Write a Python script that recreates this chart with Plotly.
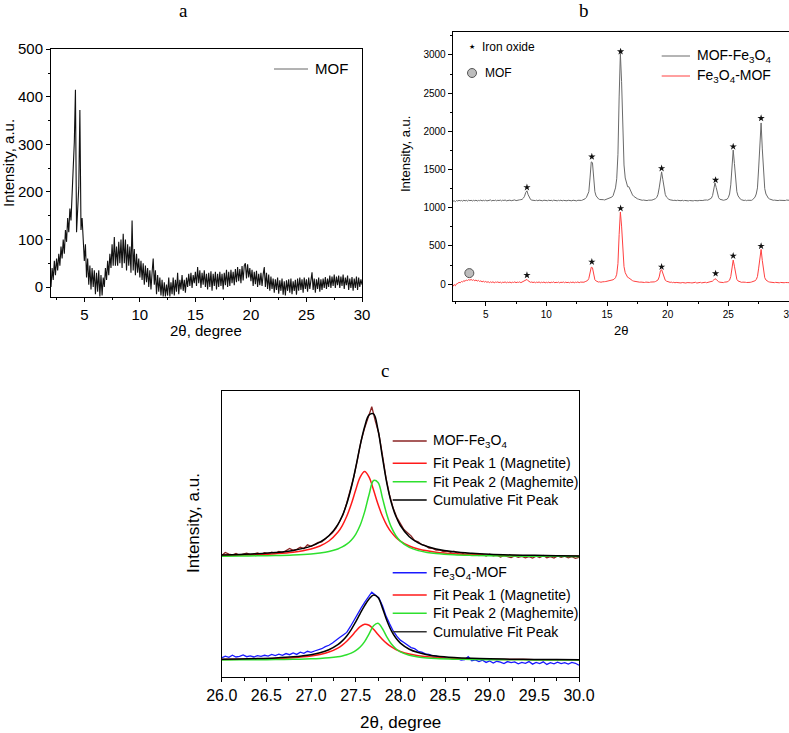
import numpy as np
import plotly.graph_objects as go

W, H = 789, 733
SANS = "Liberation Sans, Arial, sans-serif"
SERIF = "Liberation Serif, Times New Roman, serif"

# ---------------- Panel a : MOF pattern (2θ from 2.0 step 0.1) ----------------
mof_start, mof_step = 2.0, 0.1
mof_y = [
    0, 40, 15, 55, 25, 60, 35, 70, 45, 85,
    60, 100, 70, 120, 95, 145, 115, 165, 140, 215,
    250, 305, 415, 115, 165, 210, 372, 120, 145, 80,
    55, 90, 20, 60, 5, 45, -5, 40, 0, 35,
    -15, 30, -10, 35, -20, 25, -18, 20, 0, 40,
    15, 55, 25, 70, 40, 90, 45, 105, 45, 85,
    45, 95, 50, 100, 40, 112, 50, 100, 35, 90,
    45, 85, 30, 140, 35, 80, 25, 70, 30, 60,
    20, 55, 15, 50, 5, 45, 10, 40, 0, 35,
    -5, 30, 60, 5, 35, -15, 25, -10, 20, -18,
    15, -20, 10, -20, 5, -18, 20, -20, 10, -15,
    20, -18, 15, -10, 30, -15, 15, -5, 25, -8,
    15, -12, 20, 0, 28, 2, 30, -2, 25, 8,
    32, 2, 42, 8, 35, -2, 30, 5, 35, 0,
    28, -5, 30, 0, 33, -8, 28, 2, 32, -5,
    28, 0, 32, 2, 28, -5, 30, 4, 36, 0,
    32, 2, 36, 8, 32, 4, 38, 10, 42, 12,
    38, 8, 44, 14, 45, 50, 18, 48, 20, 40,
    12, 36, 2, 32, 6, 34, 0, 28, 4, 30,
    2, 26, 42, 0, 30, -4, 26, -8, 22, -4,
    18, -12, 16, -6, 20, -14, 14, -8, 18, -16,
    12, -18, 14, -8, 16, -12, 18, -15, 12, -8,
    15, -16, 18, -8, 20, -6, 16, -12, 20, -4,
    16, -10, 20, -4, 14, 31, -6, 18, -12, 16,
    -4, 20, -10, 16, -6, 18, -2, 21, -4, 18,
    0, 24, -2, 22, 2, 26, -2, 22, 4, 24,
    -2, 22, 2, 26, -4, 20, 4, 24, -6, 18,
    -2, 21, -8, 18, -2, 22, -6, 20, 0, 16,
    5,
]

# ---------------- Panel b : composites (2θ from 2.3 step 0.1) ----------------
b_start, b_step = 2.3, 0.1
mof_fe3o4_y = [
    1085, 1092, 1080, 1095, 1088, 1098, 1090,
    1096, 1087, 1099, 1090, 1097, 1088, 1100, 1092, 1098, 1089,
    1097, 1091, 1100, 1088, 1096, 1093, 1101, 1089, 1098, 1092,
    1099, 1090, 1097, 1094, 1102, 1089, 1098, 1093, 1100, 1091,
    1098, 1094, 1101, 1090, 1099, 1095, 1102, 1091, 1097, 1094,
    1100, 1092, 1099, 1096, 1103, 1093, 1100, 1097, 1104, 1106,
    1110, 1125, 1150, 1200, 1222, 1170, 1125, 1108, 1100, 1096,
    1101, 1094, 1099, 1092, 1100, 1095, 1098, 1091, 1099, 1094,
    1097, 1092, 1100, 1093, 1098, 1090, 1099, 1094, 1097, 1091,
    1098, 1093, 1100, 1090, 1097, 1094, 1099, 1091, 1098, 1093,
    1096, 1091, 1099, 1093, 1097, 1090, 1098, 1095, 1100, 1096,
    1103, 1108, 1118, 1135, 1165, 1210, 1390, 1600, 1590, 1350,
    1210, 1155, 1130, 1116, 1108, 1104, 1100, 1106, 1102, 1108,
    1110, 1115, 1121, 1128, 1140, 1158, 1200, 1260, 1380, 1700,
    2450, 3020, 2650, 1950, 1560, 1390, 1310, 1275, 1275, 1235,
    1195, 1168, 1150, 1135, 1125, 1118, 1112, 1106, 1102, 1098,
    1101, 1096, 1100, 1094, 1099, 1097, 1102, 1100, 1106, 1112,
    1120, 1135, 1175, 1260, 1410, 1470, 1370, 1250, 1175, 1140,
    1120, 1110, 1104, 1098, 1101, 1095, 1099, 1093, 1098, 1094,
    1097, 1092, 1098, 1091, 1096, 1093, 1097, 1090, 1095, 1092,
    1096, 1090, 1095, 1092, 1097, 1091, 1096, 1094, 1099, 1095,
    1100, 1096, 1102, 1099, 1106, 1112, 1125, 1160, 1240, 1325,
    1265, 1175, 1132, 1112, 1104, 1100, 1098, 1102, 1106, 1112,
    1135, 1180, 1300, 1560, 1755, 1580, 1330, 1210, 1155, 1125,
    1112, 1104, 1099, 1095, 1100, 1093, 1098, 1096, 1101, 1097,
    1105, 1118, 1140, 1180, 1260, 1520, 1920, 2110, 1770, 1410,
    1250, 1180, 1142, 1125, 1115, 1108, 1102, 1098, 1100, 1095,
    1099, 1094, 1098, 1096, 1100, 1093, 1099, 1095, 1101, 1097,
    1098,
]
fe3o4_mof_y = [
    -30, -5, -20, 5, 10, 25, 18,
    35, 30, 45, 38, 55, 48, 60, 52, 62, 50,
    58, 45, 55, 40, 50, 36, 44, 30, 40, 28,
    36, 24, 33, 20, 30, 22, 32, 18, 28, 24,
    30, 20, 28, 16, 26, 22, 30, 18, 27, 21,
    29, 17, 26, 22, 31, 19, 27, 23, 30, 20,
    28, 33, 40, 55, 62, 44, 30, 24, 29, 21,
    28, 19, 27, 22, 30, 18, 26, 21, 29, 17,
    25, 20, 28, 16, 26, 22, 30, 18, 25, 21,
    28, 17, 26, 22, 29, 19, 27, 20, 25, 18,
    27, 21, 29, 18, 26, 22, 30, 19, 27, 24,
    30, 26, 33, 38, 48, 75, 145, 222, 215, 115,
    58, 42, 34, 28, 31, 25, 30, 27, 33, 35,
    38, 42, 45, 48, 52, 58, 68, 85, 130, 270,
    650, 945, 760, 420, 230, 150, 110, 90, 82, 66,
    55, 46, 40, 36, 32, 29, 31, 26, 28, 24,
    29, 22, 27, 24, 30, 23, 28, 26, 32, 30,
    35, 42, 55, 95, 172, 190, 135, 80, 52, 40,
    33, 28, 24, 27, 20, 25, 18, 23, 19, 24,
    20, 16, 22, 18, 24, 15, 21, 17, 23, 19,
    16, 22, 18, 25, 15, 21, 19, 24, 17, 22,
    20, 25, 19, 24, 22, 28, 32, 40, 55, 72,
    62, 44, 32, 26, 22, 25, 21, 27, 24, 30,
    40, 52, 100, 225, 315, 235, 115, 64, 42, 33,
    28, 24, 27, 21, 25, 22, 26, 20, 24, 28,
    32, 38, 45, 60, 100, 210, 385, 455, 310, 150,
    85, 55, 40, 33, 28, 25, 22, 26, 20, 24,
    21, 25, 18, 23, 20, 26, 19, 22, 17, 21,
    20,
]
star_x = [8.4, 13.75, 16.12, 19.5, 23.95, 25.4, 27.7]
star_gray_y = [1267, 1668, 3045, 1516, 1363, 1800, 2172]
star_red_y = [118, 292, 992, 227, 140, 371, 498]
mof_mark_x = [3.65]
mof_mark_y = [145]

# ---------------- Panel c : peak fitting (2θ from 26.00 step 0.04) ----------------
c_start, c_step = 26.0, 0.04
c_top_data = [
    42.4, 43.5, 42.9, 42.6, 43.1, 42.5, 42.9, 43.2, 42.7, 43.0, 43.3, 42.8, 43.4,
    43.0, 43.6, 43.2, 43.8, 43.4, 44.3, 44.9, 44.2, 44.6, 45.3, 44.8, 46.2,
    45.6, 46.3, 47.0, 47.2, 48.4, 49.3, 50.4, 52.0, 54.3, 56.8, 60.8, 65.5, 70.0,
    76.0, 82.5, 87.0, 90.5, 94.5, 89.5, 85.0, 77.5, 69.5, 63.5, 59.0, 55.8,
    53.5, 51.5, 50.4, 49.3, 47.6, 47.2, 46.2, 45.9, 45.0, 44.9, 44.3, 44.4, 43.8,
    44.0, 43.5, 43.9, 43.2, 43.4, 42.8, 43.1, 42.6, 43.0, 42.4, 42.8, 42.2,
    42.9, 42.3, 42.6, 41.9, 42.4, 42.0, 41.7, 42.3, 41.8, 42.1, 41.6, 42.0, 41.5,
    42.2, 41.7, 42.4, 41.6, 42.0, 41.5, 42.3, 41.8, 42.2, 41.6, 42.0, 41.4,
    41.8,
]
c_bot_data = [
    6.6, 7.2, 6.8, 7.5, 6.9, 7.1, 7.6, 7.0, 7.3, 6.9, 7.4, 7.1, 7.5,
    7.2, 7.8, 7.4, 7.9, 7.5, 8.1, 7.7, 8.3, 7.8, 8.6, 8.2, 8.9,
    8.5, 9.0, 9.4, 9.8, 10.5, 11.0, 11.8, 12.6, 13.7, 14.6, 15.5, 17.5, 19.8,
    22.0, 24.0, 26.0, 27.8, 29.6, 28.6, 27.6, 24.8, 21.2, 18.5, 16.0, 14.2,
    12.8, 12.0, 11.2, 10.2, 9.8, 8.9, 8.6, 8.0, 7.8, 7.3, 7.2, 6.8, 6.9,
    6.4, 6.5, 6.1, 6.3, 5.8, 6.0, 7.0, 5.6, 5.9, 5.3, 5.8, 5.0,
    5.5, 4.8, 5.4, 5.1, 4.6, 5.3, 4.9, 5.2, 4.5, 5.0, 4.7, 5.3, 4.4,
    5.0, 4.6, 5.2, 4.3, 4.9, 4.5, 5.1, 4.6, 4.9, 4.4, 5.0, 4.7,
    4.0,
]
fit_x = [26.0, 26.2, 26.4, 26.6, 26.8, 27.0, 27.1, 27.2, 27.3, 27.35, 27.4, 27.45,
         27.5, 27.55, 27.6, 27.65, 27.7, 27.75, 27.8, 27.85, 27.9, 27.95, 28.0,
         28.1, 28.2, 28.3, 28.4, 28.6, 28.8, 29.0, 29.25, 29.5, 29.75, 30.0]
top_fit1 = [42.41, 42.54, 42.73, 43.04, 43.59, 44.72, 45.76, 47.49, 50.53, 52.91, 56.14, 60.36,
            65.33, 69.87, 71.8, 69.87, 65.33, 60.36, 56.14, 52.91, 50.53, 48.78, 47.49,
            45.76, 44.72, 44.05, 43.59, 43.04, 42.73, 42.54, 42.39, 42.30, 42.23, 42.19]
top_fit2 = [42.18, 42.23, 42.30, 42.42, 42.62, 42.99, 43.32, 43.84, 44.72, 45.41, 46.37, 47.76,
            49.84, 52.99, 57.68, 63.76, 68.66, 68.0, 62.5, 56.61, 52.25, 49.35, 47.44,
            45.25, 44.13, 43.50, 43.11, 42.67, 42.45, 42.32, 42.23, 42.17, 42.13, 42.10]
top_cum = [42.59, 42.77, 43.03, 43.46, 44.21, 45.71, 47.08, 49.33, 53.25, 56.32, 60.51, 66.12,
           73.17, 80.86, 87.48, 91.63, 91.99, 86.36, 76.64, 67.52, 60.78, 56.13, 52.93,
           49.01, 46.85, 45.55, 44.70, 43.71, 43.18, 42.86, 42.62, 42.47, 42.36, 42.29]
bot_fit1 = [6.03, 6.10, 6.20, 6.37, 6.67, 7.25, 7.78, 8.62, 10.02, 11.06, 12.39, 14.04,
            15.88, 17.53, 18.38, 18.0, 16.59, 14.77, 13.02, 11.55, 10.40, 9.52, 8.84,
            7.91, 7.34, 6.96, 6.71, 6.39, 6.22, 6.11, 6.02, 5.97, 5.93, 5.91]
bot_fit2 = [5.88, 5.91, 5.94, 5.99, 6.08, 6.25, 6.39, 6.62, 6.99, 7.28, 7.68, 8.26,
            9.10, 10.37, 12.30, 15.00, 17.82, 18.73, 16.78, 13.84, 11.44, 9.80, 8.72,
            7.51, 6.90, 6.56, 6.36, 6.14, 6.02, 5.96, 5.91, 5.88, 5.86, 5.85]
bot_cum = [6.11, 6.21, 6.34, 6.56, 6.95, 7.70, 8.37, 9.44, 11.21, 12.54, 14.27, 16.50,
           19.18, 22.10, 24.88, 27.20, 28.61, 27.70, 24.00, 19.59, 16.04, 13.52, 11.76,
           9.62, 8.44, 7.72, 7.27, 6.73, 6.44, 6.27, 6.13, 6.05, 5.99, 5.96]

C_TOP = "#8b2525"
C_RED = "#ff1a1a"
C_GREEN = "#2ee02e"
C_BLUE = "#1a1aff"
C_GRAY = "#6a6a6a"
C_PINK = "#ff4040"


def grid(start, step, n):
    return np.round(start + step * np.arange(n), 3)


def px(x):
    return x / W


def py(y):
    return 1 - y / H


fig = go.Figure()

# panel a
fig.add_trace(go.Scatter(x=grid(mof_start, mof_step, len(mof_y)), y=mof_y, mode="lines",
                         line=dict(color="#111111", width=1.1), xaxis="x", yaxis="y",
                         showlegend=False))

# panel b
fig.add_trace(go.Scatter(x=grid(b_start, b_step, len(mof_fe3o4_y)), y=mof_fe3o4_y, mode="lines",
                         line=dict(color=C_GRAY, width=1), xaxis="x2", yaxis="y2",
                         showlegend=False))
fig.add_trace(go.Scatter(x=grid(b_start, b_step, len(fe3o4_mof_y)), y=fe3o4_mof_y, mode="lines",
                         line=dict(color=C_PINK, width=1), xaxis="x2", yaxis="y2",
                         showlegend=False))
fig.add_trace(go.Scatter(x=star_x + star_x, y=star_gray_y + star_red_y, mode="markers",
                         marker=dict(symbol="star", size=5.5, color="#111111"),
                         xaxis="x2", yaxis="y2", showlegend=False))
fig.add_trace(go.Scatter(x=mof_mark_x, y=mof_mark_y, mode="markers",
                         marker=dict(symbol="circle", size=9, color="#bdbdbd",
                                     line=dict(color="#555555", width=1)),
                         xaxis="x2", yaxis="y2", showlegend=False))

# panel c
fig.add_trace(go.Scatter(x=grid(c_start, c_step, len(c_top_data)), y=c_top_data, mode="lines",
                         line=dict(color=C_TOP, width=1.3), xaxis="x3", yaxis="y3",
                         showlegend=False))
fig.add_trace(go.Scatter(x=grid(c_start, c_step, len(c_bot_data)), y=c_bot_data, mode="lines",
                         line=dict(color=C_BLUE, width=1.3), xaxis="x3", yaxis="y3",
                         showlegend=False))
for ys, col in [(top_fit1, C_RED), (top_fit2, C_GREEN), (top_cum, "#000000"),
                (bot_fit1, C_RED), (bot_fit2, C_GREEN), (bot_cum, "#000000")]:
    fig.add_trace(go.Scatter(x=fit_x, y=ys, mode="lines",
                             line=dict(color=col, width=1.5, shape="spline"),
                             xaxis="x3", yaxis="y3", showlegend=False))

axis_common = dict(showline=True, linecolor="black", linewidth=1, mirror=True,
                   ticks="outside", tickcolor="black", ticklen=4, tickwidth=1,
                   showgrid=False, zeroline=False, automargin=False)

fig.update_layout(
    template="none",
    width=W, height=H, autosize=False,
    margin=dict(l=0, r=0, t=0, b=0, pad=0, autoexpand=False),
    paper_bgcolor="white", plot_bgcolor="white",
    font=dict(family=SANS, color="black"),
    xaxis=dict(**axis_common, domain=[px(51), px(362)], range=[2, 30], anchor="y",
               tickvals=[5, 10, 15, 20, 25, 30], tickfont=dict(size=15),
               minor=dict(ticks="outside", ticklen=2, tickcolor="black", dtick=2.5, tick0=0)),
    yaxis=dict(**axis_common, domain=[py(297), py(49)], range=[-21, 500.5], anchor="x",
               tickvals=[0, 100, 200, 300, 400, 500], tickfont=dict(size=15),
               minor=dict(ticks="outside", ticklen=2, tickcolor="black", dtick=50, tick0=0)),
    xaxis2=dict(**axis_common, domain=[px(452.7), 1.0], range=[2.28, 30], anchor="y2",
                tickvals=[5, 10, 15, 20, 25, 30], tickfont=dict(size=10),
                ticklabeloverflow="allow",
                minor=dict(ticks="outside", ticklen=2, tickcolor="black", dtick=2.5, tick0=0)),
    yaxis2=dict(**axis_common, domain=[py(301), py(32)], range=[-220, 3300], anchor="x2",
                tickvals=[0, 500, 1000, 1500, 2000, 2500, 3000], tickfont=dict(size=10),
                minor=dict(ticks="outside", ticklen=2, tickcolor="black", dtick=250, tick0=0)),
    xaxis3=dict(**axis_common, domain=[px(221.7), px(579)], range=[26, 30], anchor="y3",
                tickvals=[26, 26.5, 27, 27.5, 28, 28.5, 29, 29.5, 30], tickformat=".1f",
                tickfont=dict(size=16),
                minor=dict(ticks="outside", ticklen=3, tickcolor="black", dtick=0.25, tick0=26)),
    yaxis3=dict(showline=True, linecolor="black", linewidth=1, mirror=True, ticks="",
                showticklabels=False, showgrid=False, zeroline=False, automargin=False,
                domain=[py(676.7), py(391)], range=[0, 100], anchor="x3"),
)

ann = []
shapes = []


def text(x, y, s, size, family=SANS, xanchor="center", angle=0, color="black"):
    ann.append(dict(x=px(x), y=py(y), xref="paper", yref="paper", text=s, showarrow=False,
                    xanchor=xanchor, yanchor="middle", textangle=angle,
                    font=dict(size=size, family=family, color=color)))


def legline(x0, x1, y, color, width=1.5):
    shapes.append(dict(type="line", xref="paper", yref="paper", x0=px(x0), x1=px(x1),
                       y0=py(y), y1=py(y), line=dict(color=color, width=width)))


# panel titles
text(183, 11, "a", 19, SERIF)
text(584, 11, "b", 19, SERIF)
text(385, 370, "c", 19, SERIF)

# axis titles
text(9, 163, "Intensity, a.u.", 15, angle=-90)
text(206, 331, "2θ, degree", 15)
text(405, 154, "Intensity, a.u.", 13, angle=-90)
text(621, 330, "2θ", 13)
text(193, 523, "Intensity, a.u.", 17, angle=-90)
text(400, 722, "2θ, degree", 17)

# legend a
legline(274, 308, 69, "#666666", 1)
text(313, 69, "MOF", 15, xanchor="left")

# legend b (markers)
text(472, 47.5, "★", 7, family="DejaVu Sans")
shapes.append(dict(type="circle", xref="paper", yref="paper", x0=px(467.5), x1=px(476.5),
                   y0=py(77.5), y1=py(68.5), fillcolor="#bdbdbd",
                   line=dict(color="#555555", width=1)))
text(480, 47.5, "Iron oxide", 12, xanchor="left")
text(483, 73, "MOF", 12, xanchor="left")
# legend b (lines)
legline(661.7, 690, 56, C_GRAY, 1)
legline(661.7, 690, 76, C_PINK, 1)
text(695, 56, "MOF-Fe<sub>3</sub>O<sub>4</sub>", 14, xanchor="left")
text(695, 76, "Fe<sub>3</sub>O<sub>4</sub>-MOF", 14, xanchor="left")

# legends c
rows_top = [(441, C_TOP, "MOF-Fe<sub>3</sub>O<sub>4</sub>"),
            (463.3, C_RED, "Fit Peak 1 (Magnetite)"),
            (481.7, C_GREEN, "Fit Peak 2 (Maghemite)"),
            (500, "#000000", "Cumulative Fit Peak")]
rows_bot = [(572.7, C_BLUE, "Fe<sub>3</sub>O<sub>4</sub>-MOF"),
            (595, C_RED, "Fit Peak 1 (Magnetite)"),
            (613.3, C_GREEN, "Fit Peak 2 (Maghemite)"),
            (631.7, "#333333", "Cumulative Fit Peak")]
for yy, col, label in rows_top + rows_bot:
    legline(392.7, 426.7, yy, col, 1.5)
    text(431, yy, label, 14, xanchor="left")

fig.update_layout(annotations=ann, shapes=shapes)
fig.write_html("out.html",
               config={"displayModeBar": False},
               post_script="document.body.style.margin='0';"
                           "document.documentElement.style.overflow='hidden';")
